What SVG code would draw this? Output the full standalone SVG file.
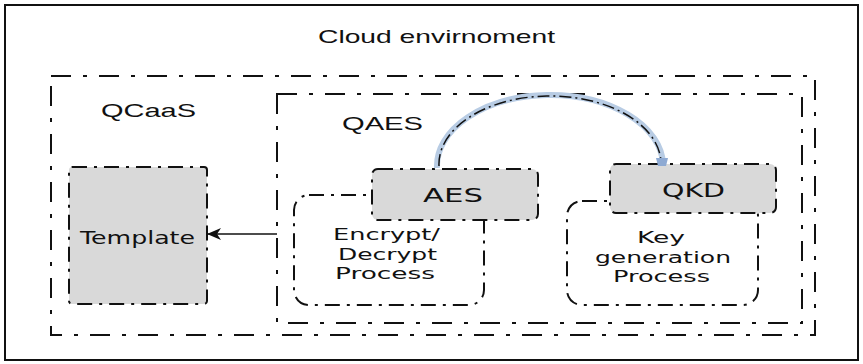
<svg xmlns="http://www.w3.org/2000/svg" width="863" height="364" viewBox="0 0 863 364">
<style>
.frame{fill:none;stroke:#111;stroke-width:2}
.dd{fill:none;stroke:#111;stroke-width:2;stroke-dasharray:20 12 4 12}
.ds{fill:none;stroke:#111;stroke-width:2;stroke-dasharray:15 7 3 7}
.grey{fill:#d9d9d9;stroke:#111;stroke-width:2;stroke-dasharray:15 7 3 7}
.t{font-family:"Liberation Sans",Arial,sans-serif;fill:#111}
.v{font-family:"DejaVu Sans",Verdana,sans-serif;fill:#111}
</style>
<defs>
<marker id="ah" markerWidth="14" markerHeight="12" refX="13" refY="6" orient="auto" markerUnits="userSpaceOnUse">
<path d="M0,0 L14,6 L0,12 L4,6 Z" fill="#111"/>
</marker>
</defs>
<rect width="863" height="364" fill="#fff"/>
<rect class="frame" x="5" y="5" width="853" height="355"/>
<text class="t" x="318" y="43" font-size="19" textLength="237" lengthAdjust="spacingAndGlyphs">Cloud envirnoment</text>
<g id="qcaas">
<rect class="dd" x="51" y="76" width="764" height="259"/>
<text class="t" x="101" y="117" font-size="18" textLength="95" lengthAdjust="spacingAndGlyphs">QCaaS</text>
</g>
<g id="qaes">
<rect class="dd" x="277" y="94" width="525" height="229"/>
<text class="t" x="342" y="130" font-size="18" textLength="81" lengthAdjust="spacingAndGlyphs">QAES</text>
</g>
<g id="template">
<rect class="grey" x="69" y="167" width="138" height="137" rx="3"/>
<text class="v" x="80" y="244" font-size="17" textLength="115" lengthAdjust="spacingAndGlyphs">Template</text>
</g>
<g id="encrypt">
<rect class="ds" x="294" y="195" width="190" height="110" rx="15"/>
<text class="v" x="333" y="240" font-size="16" textLength="107" lengthAdjust="spacingAndGlyphs">Encrypt/</text>
<text class="v" x="338" y="260" font-size="16" textLength="99" lengthAdjust="spacingAndGlyphs">Decrypt</text>
<text class="v" x="335" y="279" font-size="16" textLength="100" lengthAdjust="spacingAndGlyphs">Process</text>
</g>
<g id="keygen">
<rect class="ds" x="567" y="201" width="191" height="104" rx="15"/>
<text class="v" x="637" y="243" font-size="16" textLength="48" lengthAdjust="spacingAndGlyphs">Key</text>
<text class="v" x="595" y="263" font-size="16" textLength="136" lengthAdjust="spacingAndGlyphs">generation</text>
<text class="v" x="613" y="282" font-size="16" textLength="97" lengthAdjust="spacingAndGlyphs">Process</text>
</g>
<g id="aes">
<rect class="grey" x="372" y="169" width="166" height="51" rx="6"/>
<text class="v" x="423" y="202" font-size="19" textLength="60" lengthAdjust="spacingAndGlyphs">AES</text>
</g>
<g id="qkd">
<rect class="grey" x="610" y="164" width="166" height="49" rx="6"/>
<text class="v" x="662" y="197" font-size="19" textLength="63" lengthAdjust="spacingAndGlyphs">QKD</text>
</g>
<g id="connectors">
<line x1="277" y1="234" x2="208" y2="234" stroke="#111" stroke-width="1.5" marker-end="url(#ah)"/>
<path d="M437,168 A113,71 0 0 1 663,164" fill="none" stroke="#b8cce4" stroke-width="6"/>
<path d="M439,166 A111,68 0 0 1 661,162" fill="none" stroke="#111" stroke-width="1.5" stroke-dasharray="12 4 2 4"/>
<path d="M656,158 L668,158 L666,166 L658,166 Z" fill="#8eaad3"/>
</g>
</svg>
